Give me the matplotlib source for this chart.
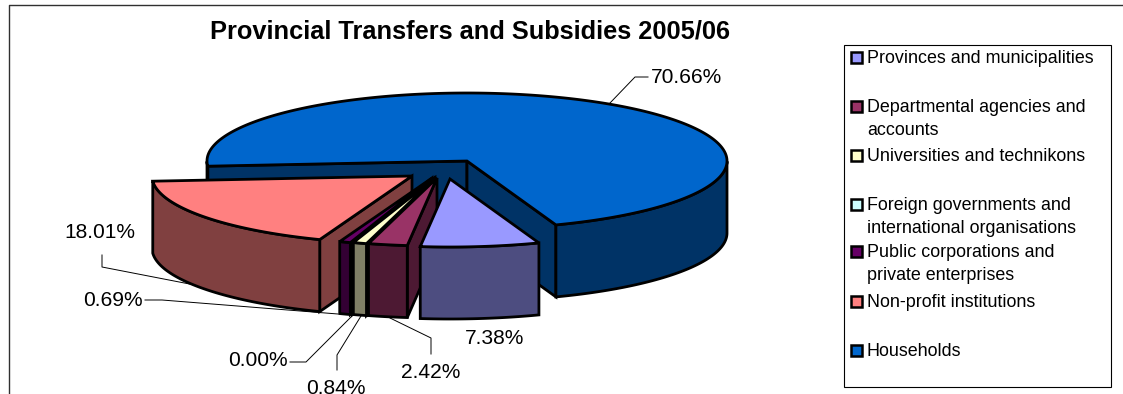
import numpy as np
import matplotlib
matplotlib.use("Agg")
import matplotlib.pyplot as plt
from matplotlib.patches import Polygon, Rectangle

plt.rcParams['font.family'] = ['Liberation Sans', 'DejaVu Sans']

# Share of provincial transfers per category, clockwise from the first slice
categories = ['Provinces and municipalities',
              'Departmental agencies and\naccounts',
              'Universities and technikons',
              'Foreign governments and\ninternational organisations',
              'Public corporations and\nprivate enterprises',
              'Non-profit institutions',
              'Households']
shares = [7.38, 2.42, 0.84, 0.00, 0.69, 18.01, 70.66]

top_colors = ['#9999FF', '#993366', '#FFFFCC', '#CCFFFF', '#660066', '#FF8080', '#0066CC']
side_colors = ['#4D4D80', '#4D1933', '#808066', '#668080', '#330033', '#804040', '#003366']

# How far each slice is pulled out of the pie, in pixels
explode = [(-17, 18), (-30, 17), (-32, 17), (-33, 17), (-35, 17), (-55, 15), (0, 0)]

# Pie geometry in pixels
cx, cy = 467, 161
rx, ry = 260, 68
depth = 72
start_angle = -70

fig = plt.figure(figsize=(11.23, 3.94), dpi=100)
ax = fig.add_axes([0, 0, 1, 1])
ax.set_xlim(0, 1123)
ax.set_ylim(394, 0)
ax.axis('off')


def rim(x0, y0, angles):
    t = np.radians(angles)
    return np.column_stack([x0 + rx * np.cos(t), y0 - ry * np.sin(t)])


def poly(points, color, z):
    ax.add_patch(Polygon(points, closed=True, facecolor=color, edgecolor='black',
                         linewidth=2.0, joinstyle='miter', zorder=z))


def draw_slice(a0, a1, x0, y0, top, side, z):
    angles = np.linspace(a0, a1, max(int(a0 - a1) * 2, 2))

    # cut faces, only those turned towards the viewer
    if np.cos(np.radians(a0)) < 0:
        p = rim(x0, y0, [a0])[0]
        poly([(x0, y0), p, (p[0], p[1] + depth), (x0, y0 + depth)], side, z)
    if np.cos(np.radians(a1)) > 0:
        p = rim(x0, y0, [a1])[0]
        poly([(x0, y0), p, (p[0], p[1] + depth), (x0, y0 + depth)], side, z)

    # outer wall, one piece for each stretch along the front of the rim
    front = np.sin(np.radians(angles)) <= 0
    idx = np.where(front)[0]
    if len(idx) > 1:
        for run in np.split(idx, np.where(np.diff(idx) > 1)[0] + 1):
            if len(run) < 2:
                continue
            arc = rim(x0, y0, angles[run])
            poly(np.vstack([arc, (arc + [0, depth])[::-1]]), side, z + 0.1)

    arc = rim(x0, y0, angles)
    poly(np.vstack([[(x0, y0)], arc]), top, z + 0.2)


# Households sits at the back, so paint the slices from last to first
edges = start_angle - np.cumsum([0] + shares) * 3.6
for i in range(len(shares) - 1, -1, -1):
    dx, dy = explode[i]
    z = 2 + (len(shares) - i) if i != 6 else 2
    draw_slice(edges[i], edges[i + 1], cx + dx, cy + dy, top_colors[i], side_colors[i], z)

# Data labels and their leader lines
label_style = dict(fontsize=15.1, color='black', ha='center', va='center', zorder=20)
ax.text(686, 77, '70.66%', **label_style)
ax.text(100, 232, '18.01%', **label_style)
ax.text(113, 300, '0.69%', **label_style)
ax.text(258, 361, '0.00%', **label_style)
ax.text(336, 388, '0.84%', **label_style)
ax.text(431, 372, '2.42%', **label_style)
ax.text(495, 338, '7.38%', **label_style)

leaders = [([610, 635, 648], [103, 77, 77]),
           ([102, 102, 205], [255, 267, 287]),
           ([145, 162, 338], [300, 300, 314]),
           ([290, 306, 352], [362, 362, 316]),
           ([337, 337, 361], [370, 355, 316]),
           ([431, 431, 390], [354, 338, 318])]
for xs, ys in leaders:
    ax.plot(xs, ys, color='black', linewidth=0.7, zorder=1)

ax.text(470.5, 31, 'Provincial Transfers and Subsidies 2005/06', fontsize=18.25, fontweight='bold',
        ha='center', va='center')

# Chart frame, open on the right
ax.plot([9, 9, 1123], [394, 5, 5], color='#303030', linewidth=1.0, zorder=0)

# Legend box
ax.add_patch(Rectangle((844, 45), 267, 342, facecolor='white', edgecolor='black', linewidth=0.8))
legend_y = [58, 107, 156, 205, 252, 302, 351]
for name, color, y in zip(categories, top_colors, legend_y):
    ax.add_patch(Rectangle((850.5, y - 6), 11, 11, facecolor=color, edgecolor='black', linewidth=1.8))
    ax.text(867, y - 7.7, name, fontsize=12.9, color='black', ha='left', va='top', linespacing=1.42)

fig.savefig('out.png', dpi=100)
